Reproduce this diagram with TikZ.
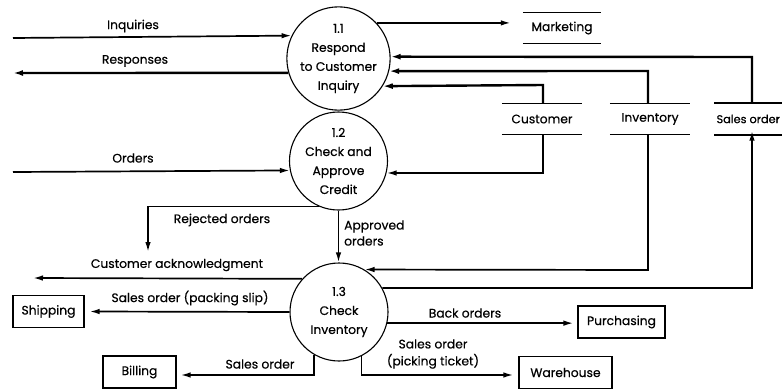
\documentclass[tikz,border=0pt]{standalone}
\usepackage{fontspec}
\setmainfont{Poppins}[FakeBold=0.5]
\usetikzlibrary{arrows.meta}
\begin{document}
\begin{tikzpicture}[x=1pt,y=-1pt,
  every node/.style={font=\fontsize{12.3}{19}\selectfont},
  proc/.style={circle,draw,line width=1.1pt,minimum size=98pt,inner sep=0pt,align=center},
  ext/.style={draw,line width=1.1pt,inner sep=0pt,minimum height=32pt},
  store/.style={inner sep=0pt,minimum height=31pt},
  lbl/.style={inner sep=1pt},
  flow/.style={line width=1.7pt,-{Latex[length=10pt,width=5.5pt]}},
  thick flow/.style={line width=2.4pt,-{Latex[length=10pt,width=6pt]}},
  sline/.style={line width=1.4pt},
]
\useasboundingbox (0,0) rectangle (782,391);
\clip (0,0) rectangle (782,391);

% processes
\node[proc] (p11) at (338.5,58.5) {1.1\\Respond\\to Customer\\Inquiry};
\node[proc] (p12) at (338.5,161) {1.2\\Check and\\Approve\\Credit};
\node[proc] (p13) at (339,312) {1.3\\Check\\Inventory};

% data stores
\node[store,minimum width=78pt] (mkt) at (562,28) {Marketing};
\node[store,minimum width=80pt] (cust) at (542,119) {Customer};
\node[store,minimum width=80pt] (inv) at (650,119) {Inventory};
\node[store,minimum width=68pt,anchor=west,font=\fontsize{11.3}{14}\selectfont] (sord) at (714,119) {Sales order};
\foreach \s in {mkt,cust,inv}{
  \draw[sline] (\s.north west) -- (\s.north east);
  \draw[sline] (\s.south west) -- (\s.south east);
}
\draw[line width=2pt] (sord.north west) -- (782,0 |- sord.north);
\draw[line width=2pt] (sord.south west) -- (782,0 |- sord.south);

% external entities
\node[ext,minimum width=71pt] (ship) at (48.5,311.5) {Shipping};
\node[ext,minimum width=73pt] (bill) at (139.5,372) {Billing};
\node[ext,minimum width=87pt] (purch) at (621.5,322) {Purchasing};
\node[ext,minimum width=93pt] (ware) at (565.5,372.5) {Warehouse};

% free ends
\coordinate (inqsrc) at (13,38);
\coordinate (respdst) at (13,73);
\coordinate (ordsrc) at (13,172);
\coordinate (rejdst) at (148,252);
\coordinate (ackdst) at (33,278);

% flows around 1.1
\draw[flow] (inqsrc) -- (p11.154);
\draw[thick flow] (p11.196) -- (respdst);
\draw[flow] (p11.43) -- ([xshift=-12pt]mkt.west |- p11.43);
\draw[thick flow] (sord.north -| 752,0) -- (752,57) -- (p11.2);
\draw[thick flow] (inv.north -| 648,0) -- (648,71) -- (p11.-14);
\draw[thick flow] (cust.north -| 543,0) -- (543,85) -- (p11.-32);

% flows around 1.2
\draw[flow] (ordsrc) -- (p12.191);
\draw[flow] (cust.south -| 543,0) -- (543,173) -- (p12.-14);
\draw[flow] (p12.247) -| (rejdst);
\draw[flow] (p12.south) -- (p12.south |- p13.north);

% flows around 1.3
\draw[flow] (inv.south -| 648,0) -- (648,270) -- (p13.59);
\draw[flow] (p13.29) -- (752,288) -- ([yshift=4pt]sord.south -| 752,0);
\draw[flow] (p13.138) -- (ackdst);
\draw[flow] (p13.west) -- ([xshift=5pt]ship.east);
\draw[flow] (p13.-13) -- ([xshift=-4pt]purch.west |- p13.-13);
\draw[flow] (p13.240) |- ([xshift=4pt]bill.east |- 0,375);
\draw[flow] (p13.297) |- ([xshift=-5pt]ware.west |- 0,375);

% labels
\node[lbl] (l1) at (133,26) {Inquiries};
\node[lbl] (l2) at (135,61) {Responses};
\node[lbl] (l3) at (133,158) {Orders};
\node[lbl] (l4) at (222,220) {Rejected orders};
\node[lbl,align=left,anchor=west,font=\fontsize{12.3}{16}\selectfont] (l5) at (343,233) {Approved\\orders};
\node[lbl] (l6) at (177,265) {Customer acknowledgment};
\node[lbl] (l7) at (190,298) {Sales order (packing slip)};
\node[lbl] (l8) at (260,364) {Sales order};
\node[lbl] (l9) at (465,313) {Back orders};
\node[lbl,align=center,font=\fontsize{12.3}{17}\selectfont] (l10) at (433,354) {Sales order\\(picking ticket)};
\end{tikzpicture}
\end{document}
